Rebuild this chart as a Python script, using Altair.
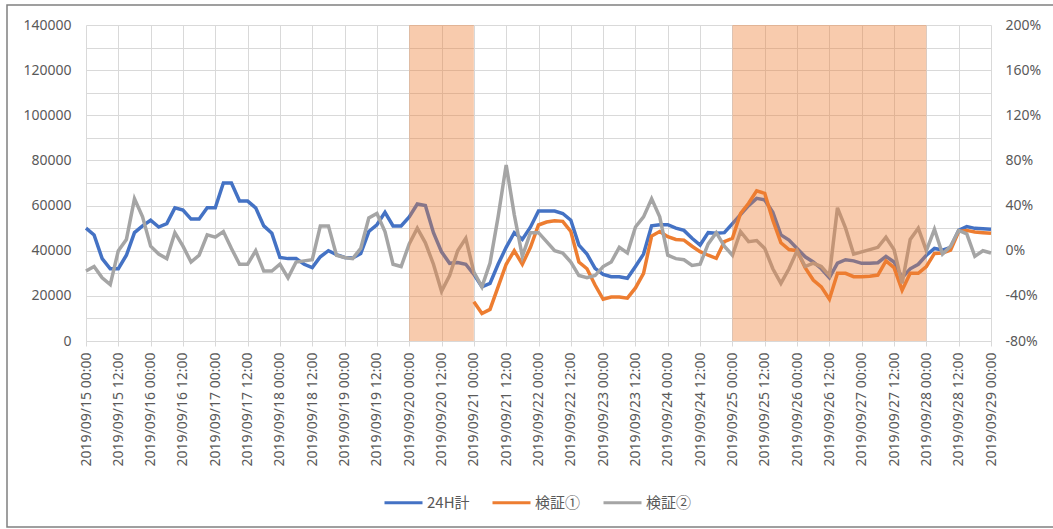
import altair as alt
import pandas as pd

# ---- data (3-hourly readings, 2019/09/15 00:00 .. 2019/09/29 00:00) ----
times = pd.date_range("2019-09-15 00:00", periods=113, freq="3h").strftime("%Y-%m-%dT%H:%M:%S").tolist()

blue_24h = [50000, 47000, 36500, 32000, 32000, 38000, 48000, 51000, 53500, 50500,
            52000, 59000, 58000, 54000, 54000, 59000, 59000, 70000, 70000, 62000,
            62000, 59000, 51000, 47700, 37000, 36500, 36500, 34000, 32500, 37300,
            40000, 38300, 37000, 36800, 38800, 48500, 51500, 57000, 51000, 51000,
            55000, 60700, 60000, 48000, 39500, 34400, 34800, 34000, 29500, 24000,
            25500, 34000, 41500, 48000, 45000, 50400, 57600, 57600, 57600, 56500,
            53500, 42500, 38500, 32200, 29500, 28500, 28500, 27800, 33000, 38500,
            51000, 51500, 51500, 50000, 49000, 45500, 42500, 48000, 47700, 48000,
            52000, 56000, 60000, 63200, 62500, 57000, 47000, 44700, 41000, 37300,
            35000, 32000, 28000, 34500, 36000, 35500, 34400, 34400, 34700, 37500,
            35000, 28000, 32000, 34000, 38000, 41000, 40300, 41500, 49000, 50700,
            49900, 49700, 49500]

# 検証① starts at 2019/09/21 00:00 (index 48)
orange_start = 48
orange_v1 = [17400, 12200, 14000, 24000, 34000, 40000, 34000, 41500, 51400, 52700,
             53300, 53000, 48500, 35000, 32000, 24800, 18500, 19500, 19500, 19000,
             23500, 30000, 46500, 48500, 46200, 45000, 44700, 42000, 39600, 38000,
             36600, 44000, 45500, 56500, 61000, 66500, 65400, 53500, 43500, 40500,
             40000, 32500, 27000, 24000, 18500, 30000, 30000, 28500, 28500, 28700,
             29200, 35500, 32500, 22500, 30000, 30000, 33000, 38800, 39000, 40300,
             48500, 49000, 48300, 48000, 47700]

# 検証② in percent (right axis)
gray_v2 = [-18, -14, -24, -30, 0, 10, 46, 30, 4, -3,
           -7, 16, 4, -10, -4, 14, 12, 17, 2, -12,
           -12, 0, -18, -18, -12, -24, -10, -9, -8, 22,
           22, -4, -6, -7, 2, 29, 33, 17, -12, -14,
           6, 20, 7, -12, -36, -22, 0, 11, -19, -32,
           -11, 30, 76, 32, -5, 16, 16, 8, 0, -2,
           -10, -22, -24, -22, -14, -10, 3, -2, 21, 30,
           46, 30, -4, -7, -8, -13, -12, 6, 16, 4,
           -4, 17, 8, 9, 2, -16, -29, -16, 0, -14,
           -11, -14, -22, 38, 20, -3, -1, 1, 3, 12,
           1, -29, 10, 20, 0, 19, -3, 4, 18, 15,
           -5, 0, -2]

shade_start = ["2019-09-20T00:00:00", "2019-09-25T00:00:00"]
shade_end = ["2019-09-21T00:00:00", "2019-09-28T00:00:00"]

# x tick labels every 12 hours: (day, hour)
tick_days = [d for d in range(15, 29) for _ in (0, 1)] + [29]
tick_hours = [0, 12] * 14 + [0]

series_names = ["24H計", "検証①", "検証②"]
series_colors = ["#4472C4", "#ED7D31", "#A5A5A5"]

# ---- tables ----
left_df = pd.concat([
    pd.DataFrame({"t": times, "v": blue_24h, "series": series_names[0]}),
    pd.DataFrame({"t": times[orange_start:], "v": orange_v1, "series": series_names[1]}),
])
right_df = pd.DataFrame({"t": times, "p": gray_v2, "series": series_names[2]})
shade_df = pd.DataFrame({"t": shade_start, "e": shade_end})

W, H = 905, 316
FONT = "Noto Sans"
LBL = "#595959"
GRID = "#d9d9d9"
LW = 3.5

xdom = [alt.DateTime(year=2019, month=9, date=15, hours=0),
        alt.DateTime(year=2019, month=9, date=29, hours=0)]
xticks = [alt.DateTime(year=2019, month=9, date=d, hours=h) for d, h in zip(tick_days, tick_hours)]

x_axis = alt.Axis(
    title=None, format="%Y/%m/%d %H:%M", labelAngle=270, values=xticks,
    grid=True, gridColor=GRID, domainColor=GRID, tickColor=GRID,
    tickSize=5, labelPadding=6, labelFont=FONT, labelFontSize=14, labelColor=LBL,
    labelOverlap=False,
)
x_scale = alt.Scale(domain=xdom, nice=False)


def x_enc():
    return alt.X("t:T", scale=x_scale, axis=x_axis)


color = alt.Color(
    "series:N",
    scale=alt.Scale(domain=series_names, range=series_colors),
    legend=alt.Legend(
        title=None, orient="none", legendX=297, legendY=457, direction="horizontal",
        symbolType="stroke", symbolSize=1444, symbolStrokeWidth=3,
        labelFont="Noto Sans CJK JP", labelFontSize=15, labelColor=LBL,
        labelOffset=3, columnPadding=16, padding=0,
    ),
)

lines_left = alt.Chart(left_df).mark_line(strokeWidth=LW).encode(
    x=x_enc(),
    y=alt.Y(
        "v:Q",
        scale=alt.Scale(domain=[0, 140000], nice=False),
        axis=alt.Axis(
            title=None, orient="left", values=list(range(0, 140001, 10000)),
            labelExpr="datum.value % 20000 === 0 ? datum.label : ''", format="d",
            grid=True, gridColor=GRID, domain=False, tickSize=0, labelPadding=15,
            labelFont=FONT, labelFontSize=14, labelColor=LBL,
        ),
    ),
    color=color,
)

line_right = alt.Chart(right_df).mark_line(strokeWidth=LW).encode(
    x=x_enc(),
    y=alt.Y(
        "p:Q",
        scale=alt.Scale(domain=[-80, 200], nice=False),
        axis=alt.Axis(
            title=None, orient="right", values=list(range(-80, 201, 40)),
            labelExpr="datum.value + '%'", grid=False, domain=False, tickSize=0,
            labelPadding=14, labelFont=FONT, labelFontSize=14, labelColor=LBL,
        ),
    ),
    color=color,
)

shade = alt.Chart(shade_df).mark_rect(color="#ED7D31", opacity=0.4).encode(
    x=x_enc(),
    x2="e:T",
    y=alt.value(0),
    y2=alt.value(H),
)

frame = alt.Chart(pd.DataFrame({"k": [0]})).mark_rect(
    filled=False, stroke="#808080", strokeWidth=1.5
).encode(x=alt.value(-79), x2=alt.value(972), y=alt.value(-20), y2=alt.value(502))

chart = (
    alt.layer(lines_left, line_right, shade, frame)
    .resolve_scale(y="independent")
    .properties(
        width=W, height=H,
        autosize=alt.AutoSizeParams(type="none"),
        padding={"left": 86, "top": 25, "right": 62, "bottom": 188},
        background="white",
    )
    .configure_view(stroke=None)
)

chart.save("out.html", embed_options={"renderer": "svg", "actions": False})
